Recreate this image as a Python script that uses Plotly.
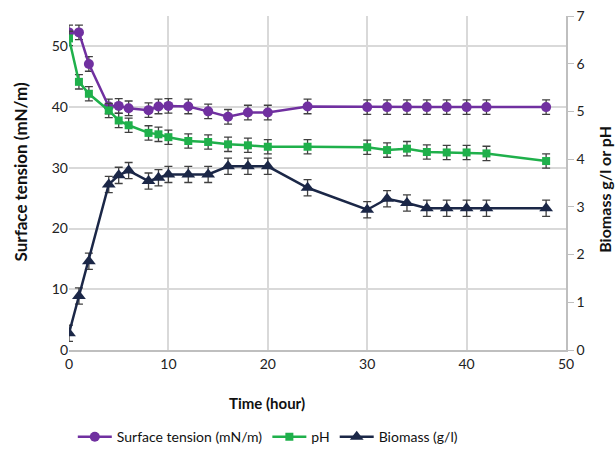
import plotly.graph_objects as go

time_st = [0, 1, 2, 4, 5, 6, 8, 9, 10, 12, 14, 16, 18, 20, 24, 30, 32, 34, 36, 38, 40, 42, 48]
surface_tension = [52.3, 52.3, 47.1, 40.1, 40.2, 39.8, 39.5, 40.1, 40.2, 40.1, 39.3, 38.4, 39.1, 39.1,
                   40.1, 40.0, 40.0, 40.0, 40.0, 40.0, 40.0, 40.0, 40.0]
ph = [6.53, 5.62, 5.37, 5.02, 4.81, 4.71, 4.55, 4.52, 4.46, 4.38, 4.36, 4.31, 4.29, 4.26,
      4.26, 4.25, 4.19, 4.22, 4.15, 4.14, 4.14, 4.12, 3.96]
biomass = [0.35, 1.13, 1.86, 3.47, 3.66, 3.76, 3.54, 3.61, 3.68, 3.68, 3.68, 3.85, 3.85, 3.85,
           3.40, 2.94, 3.17, 3.08, 2.97, 2.97, 2.97, 2.97, 2.97]
st_err = 1.2
ph_err = 0.15
bio_err = 0.17

PURPLE = "#7030A0"
GREEN = "#1FB04B"
NAVY = "#1B2747"
FONT = "Lato"

fig = go.Figure()
fig.add_trace(go.Scatter(
    x=time_st, y=surface_tension, name="Surface tension (mN/m)", mode="lines+markers",
    line=dict(color=PURPLE, width=2.5), marker=dict(symbol="circle", size=10, color=PURPLE),
    error_y=dict(type="constant", value=st_err, color="#404040", thickness=1.3, width=4),
    yaxis="y"))
fig.add_trace(go.Scatter(
    x=time_st, y=ph, name="pH", mode="lines+markers",
    line=dict(color=GREEN, width=2.5), marker=dict(symbol="square", size=8, color=GREEN),
    error_y=dict(type="constant", value=ph_err, color="#404040", thickness=1.3, width=4),
    yaxis="y2"))
fig.add_trace(go.Scatter(
    x=time_st, y=biomass, name="Biomass (g/l)", mode="lines+markers",
    line=dict(color=NAVY, width=2.5), marker=dict(symbol="triangle-up", size=12, color=NAVY),
    error_y=dict(type="constant", value=bio_err, color="#404040", thickness=1.3, width=4),
    yaxis="y2"))

fig.update_layout(
    width=616, height=452,
    margin=dict(l=69, r=50, t=16, b=102, autoexpand=False),
    paper_bgcolor="white", plot_bgcolor="white",
    font=dict(family=FONT, size=14, color="#222222"),
    showlegend=True,
    legend=dict(orientation="h", x=0.4, xanchor="center", yref="container", y=0.033,
                yanchor="middle", font=dict(family=FONT, size=14, color="#111111"),
                itemwidth=34, traceorder="normal"),
    xaxis=dict(range=[0, 50], dtick=10, showgrid=True, gridcolor="#d9d9d9", gridwidth=1.5,
               zeroline=False, showline=True, linecolor="#bfbfbf", linewidth=1.5,
               ticks="", tickfont=dict(size=14, color="#222222")),
    yaxis=dict(range=[0, 55], tickvals=[0, 10, 20, 30, 40, 50], showgrid=True,
               gridcolor="#d9d9d9", gridwidth=1.5, zeroline=False, showline=False,
               ticks="", ticklen=0, tickfont=dict(size=14, color="#222222")),
    yaxis2=dict(range=[0, 7], dtick=1, overlaying="y", side="right", showgrid=False,
                zeroline=False, showline=True, linecolor="#bfbfbf", linewidth=1.5,
                ticks="outside", ticklen=6, tickcolor="#bfbfbf",
                tickfont=dict(size=14, color="#222222")),
    annotations=[
        dict(text="<b>Time (hour)</b>", xref="paper", yref="paper", x=0.398, y=-0.159,
             xanchor="center", yanchor="middle", showarrow=False,
             font=dict(family=FONT, size=15, color="#111111")),
        dict(text="<b>Surface tension (mN/m)</b>", xref="paper", yref="paper", x=-0.097, y=0.534,
             xanchor="center", yanchor="middle", textangle=-90, showarrow=False,
             font=dict(family=FONT, size=17, color="#111111")),
        dict(text="<b>Biomass g/l or pH</b>", xref="paper", yref="paper", x=1.076, y=0.482,
             xanchor="center", yanchor="middle", textangle=-90, showarrow=False,
             font=dict(family=FONT, size=16, color="#111111")),
    ],
)

fig.write_html("out.html", config={"displayModeBar": False},
               post_script="document.body.style.margin='0';")
